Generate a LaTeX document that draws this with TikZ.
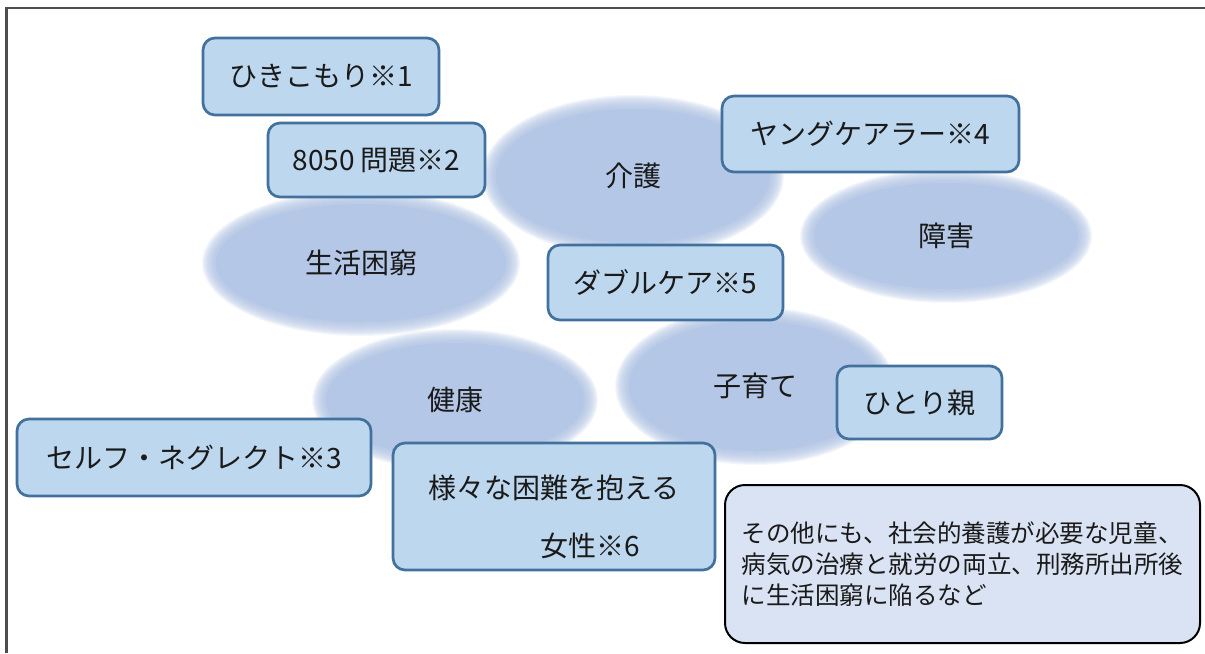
\documentclass[tikz,border=0pt]{standalone}
\usepackage{fontspec}
\setmainfont{Noto Sans CJK JP}
\definecolor{blobc}{HTML}{B4C7E7}
\definecolor{boxfill}{HTML}{BDD7EE}
\definecolor{boxline}{HTML}{41719C}
\definecolor{notefill}{HTML}{DAE3F3}
\definecolor{framec}{HTML}{4D4D4D}
\definecolor{txt}{HTML}{1A1A1A}
\tikzset{
  blobtext/.style={font=\fontsize{21}{25}\selectfont, text=txt, inner sep=0pt},
  tagbox/.style={draw=boxline, line width=2pt, fill=boxfill, rounded corners=9pt,
    text=txt, font=\fontsize{21}{25}\selectfont, inner sep=0pt},
  notebox/.style={draw=black, line width=1.5pt, fill=notefill, rounded corners=15pt,
    text=txt, font=\fontsize{18.4}{23.25}\selectfont, inner sep=0pt, align=left},
}
\newcommand\myblob[6]{%
  \foreach \d in {7,6,...,-7}{%
    \fill[blobc,opacity=0.13] (#2,#3) ellipse [x radius=#4+\d, y radius=#5+\d];}
  \fill[blobc] (#2,#3) ellipse [x radius=#4-7, y radius=#5-7];
  \node[blobtext] (#1) at (#2,#3) {#6};}
\begin{document}
\begin{tikzpicture}[x=0.75pt,y=-0.75pt]
\useasboundingbox (0,0) rectangle (1205,653);
\fill[white] (0,0) rectangle (1205,653);
\draw[framec, line width=1.6pt] (1205,8) -- (6.5,8) -- (6.5,653);

% ellipses
\myblob{kaigo}{633}{176}{144}{74}{介護}
\myblob{seikatsu}{361}{263}{152}{66}{生活困窮}
\myblob{shogai}{946}{236}{139}{60}{障害}
\myblob{kenko}{455}{400}{136}{64}{健康}
\myblob{kosodate}{755}{386}{133}{72}{子育て}

% boxes
\node[tagbox, minimum width=177pt, minimum height=57.75pt] (hiki) at (321,76.5) {ひきこもり※1};
\node[tagbox, minimum width=162.75pt, minimum height=55.5pt] (p8050) at (376.5,160) {8050 問題※2};
\node[tagbox, minimum width=222.75pt, minimum height=57pt] (young) at (870.5,134) {ヤングケアラー※4};
\node[tagbox, minimum width=176.25pt, minimum height=56.25pt] (double) at (665.5,282.5) {ダブルケア※5};
\node[tagbox, minimum width=123.75pt, minimum height=54.75pt] (hitori) at (919.5,402.5) {ひとり親};
\node[tagbox, minimum width=265.5pt, minimum height=57.75pt] (self) at (194,457.5) {セルフ・ネグレクト※3};
\node[tagbox, minimum width=241.5pt, minimum height=95.25pt] (women) at (554,506.5) {};
\node[blobtext, align=left, font=\fontsize{21}{43.5}\selectfont] (womentext) at (554,517)
  {様々な困難を抱える\\\hspace{4em}女性※6};
\node[notebox, minimum width=356.25pt, minimum height=118.5pt] (note) at (962.5,564)
  {その他にも、社会的養護が必要な児童、\\病気の治療と就労の両立、刑務所出所後\\に生活困窮に陥るなど};
\end{tikzpicture}
\end{document}
